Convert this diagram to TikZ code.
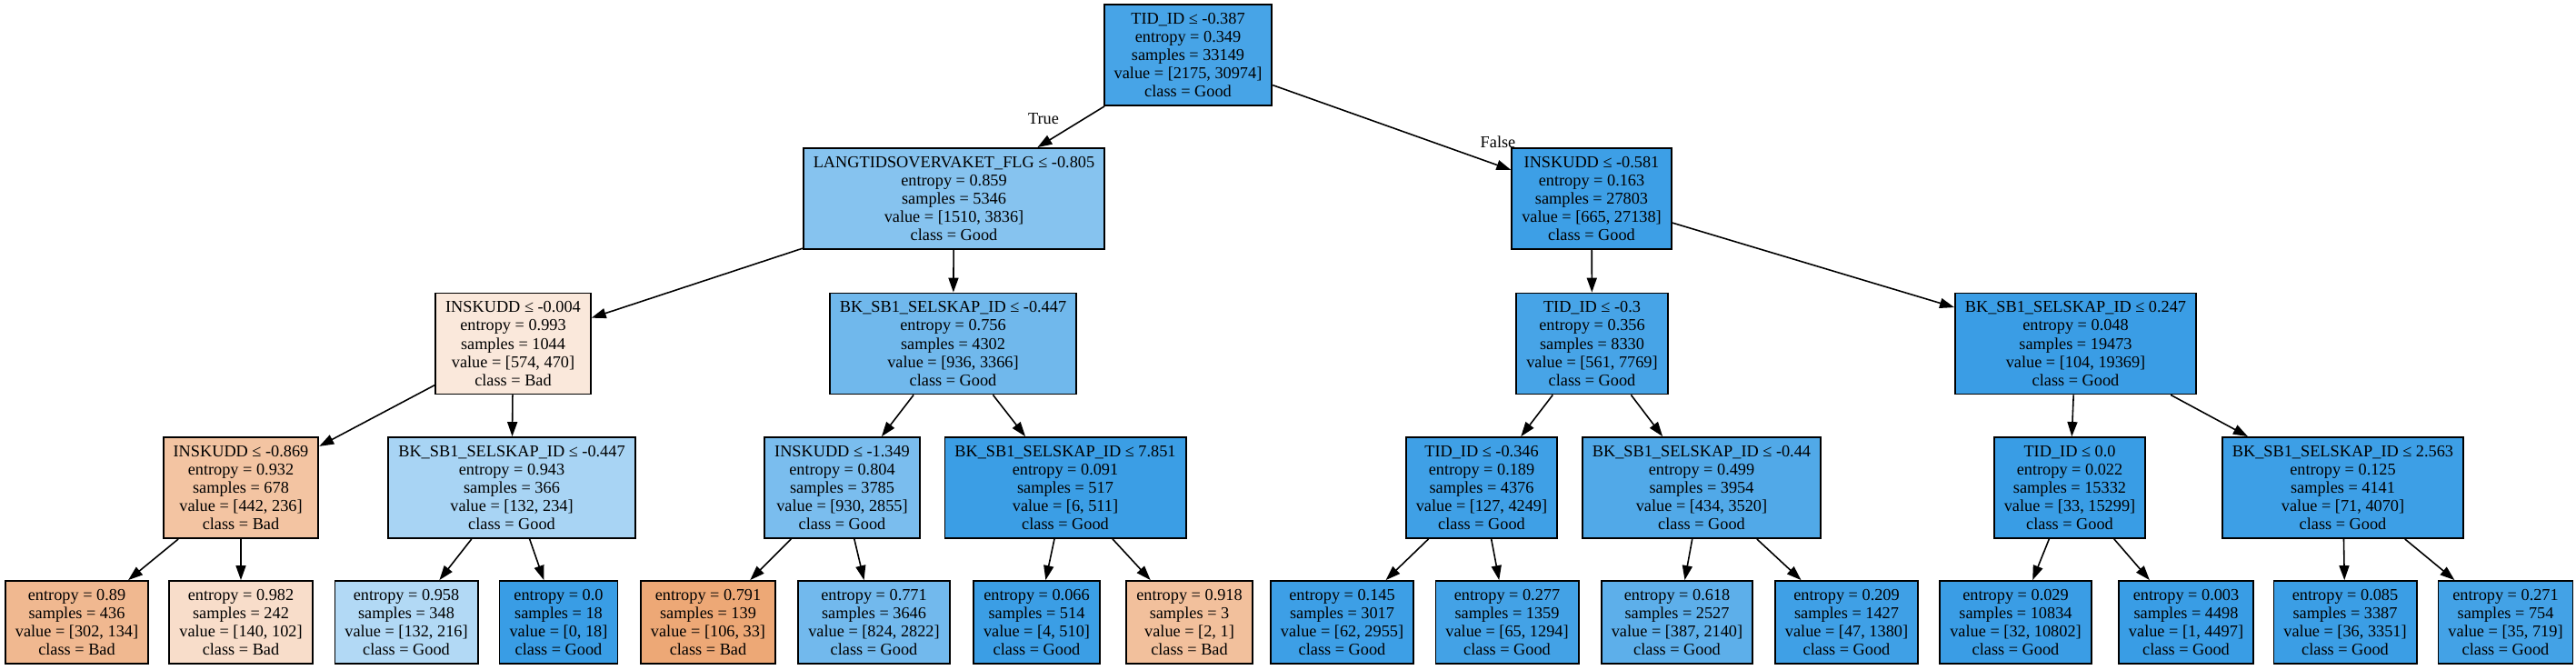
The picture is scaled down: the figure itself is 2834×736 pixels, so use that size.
\documentclass[tikz,border=0pt]{standalone}
\usepackage{fontspec}
\setmainfont{Liberation Serif}
\usepackage{xcolor}
\usepackage{tikz}
\usetikzlibrary{arrows.meta}

\definecolor{goodc}{RGB}{57,157,229}
\definecolor{badc}{RGB}{229,129,57}

\begin{document}
\begin{tikzpicture}[
  x=0.01cm, y=-0.01cm,
  font=\fontsize{5.2}{5.7}\selectfont,
  split/.style={
    rectangle,
    draw=black,
    line width=0.5pt,
    align=center,
    inner xsep=0.11cm,
    inner ysep=0pt,
    minimum height=1.11cm
  },
  leaf/.style={
    split,
    minimum height=0.91cm
  },
  edgelbl/.style={inner sep=0pt},
  arrow/.style={-{Triangle[length=1.6mm,width=1.1mm]}, line width=0.45pt, draw=black}
]
  \useasboundingbox (0,0) rectangle (2834,736);

  % level 0 / 1
  \node[split, fill=goodc!93] (root) at (1307,60.5)
    {TID\_ID ≤ -0.387\\entropy = 0.349\\samples = 33149\\value = [2175, 30974]\\class = Good};
  \node[split, fill=goodc!61] (langtid) at (1049.5,218.5)
    {LANGTIDSOVERVAKET\_FLG ≤ -0.805\\entropy = 0.859\\samples = 5346\\value = [1510, 3836]\\class = Good};
  \node[split, fill=goodc!98] (insk581) at (1751,218.5)
    {INSKUDD ≤ -0.581\\entropy = 0.163\\samples = 27803\\value = [665, 27138]\\class = Good};

  % level 2
  \node[split, fill=badc!18] (insk004) at (564.5,378)
    {INSKUDD ≤ -0.004\\entropy = 0.993\\samples = 1044\\value = [574, 470]\\class = Bad};
  \node[split, fill=goodc!72] (bk447a) at (1048.5,378)
    {BK\_SB1\_SELSKAP\_ID ≤ -0.447\\entropy = 0.756\\samples = 4302\\value = [936, 3366]\\class = Good};
  \node[split, fill=goodc!93] (tid03) at (1751.5,378)
    {TID\_ID ≤ -0.3\\entropy = 0.356\\samples = 8330\\value = [561, 7769]\\class = Good};
  \node[split, fill=goodc!99.5] (bk247) at (2283.5,378)
    {BK\_SB1\_SELSKAP\_ID ≤ 0.247\\entropy = 0.048\\samples = 19473\\value = [104, 19369]\\class = Good};

  % level 3
  \node[split, fill=badc!47] (insk869) at (265,536.5)
    {INSKUDD ≤ -0.869\\entropy = 0.932\\samples = 678\\value = [442, 236]\\class = Bad};
  \node[split, fill=goodc!44] (bk447b) at (563,536.5)
    {BK\_SB1\_SELSKAP\_ID ≤ -0.447\\entropy = 0.943\\samples = 366\\value = [132, 234]\\class = Good};
  \node[split, fill=goodc!67] (insk1349) at (926.5,536.5)
    {INSKUDD ≤ -1.349\\entropy = 0.804\\samples = 3785\\value = [930, 2855]\\class = Good};
  \node[split, fill=goodc!99] (bk7851) at (1172,536.5)
    {BK\_SB1\_SELSKAP\_ID ≤ 7.851\\entropy = 0.091\\samples = 517\\value = [6, 511]\\class = Good};
  \node[split, fill=goodc!97] (tid346) at (1630,536.5)
    {TID\_ID ≤ -0.346\\entropy = 0.189\\samples = 4376\\value = [127, 4249]\\class = Good};
  \node[split, fill=goodc!88] (bk044) at (1872,536.5)
    {BK\_SB1\_SELSKAP\_ID ≤ -0.44\\entropy = 0.499\\samples = 3954\\value = [434, 3520]\\class = Good};
  \node[split, fill=goodc!99.8] (tid00) at (2277,536.5)
    {TID\_ID ≤ 0.0\\entropy = 0.022\\samples = 15332\\value = [33, 15299]\\class = Good};
  \node[split, fill=goodc!98] (bk2563) at (2577.5,536.5)
    {BK\_SB1\_SELSKAP\_ID ≤ 2.563\\entropy = 0.125\\samples = 4141\\value = [71, 4070]\\class = Good};

  % leaves
  \node[leaf, fill=badc!56] (lf1) at (84.5,684.5)
    {entropy = 0.89\\samples = 436\\value = [302, 134]\\class = Bad};
  \node[leaf, fill=badc!27] (lf2) at (265,684.5)
    {entropy = 0.982\\samples = 242\\value = [140, 102]\\class = Bad};
  \node[leaf, fill=goodc!39] (lf3) at (447,684.5)
    {entropy = 0.958\\samples = 348\\value = [132, 216]\\class = Good};
  \node[leaf, fill=goodc] (lf4) at (614.5,684.5)
    {entropy = 0.0\\samples = 18\\value = [0, 18]\\class = Good};
  \node[leaf, fill=badc!69] (lf5) at (779,684.5)
    {entropy = 0.791\\samples = 139\\value = [106, 33]\\class = Bad};
  \node[leaf, fill=goodc!71] (lf6) at (961.5,684.5)
    {entropy = 0.771\\samples = 3646\\value = [824, 2822]\\class = Good};
  \node[leaf, fill=goodc!99] (lf7) at (1140.5,684.5)
    {entropy = 0.066\\samples = 514\\value = [4, 510]\\class = Good};
  \node[leaf, fill=badc!50] (lf8) at (1308.5,684.5)
    {entropy = 0.918\\samples = 3\\value = [2, 1]\\class = Bad};
  \node[leaf, fill=goodc!98] (lf9) at (1476.5,684.5)
    {entropy = 0.145\\samples = 3017\\value = [62, 2955]\\class = Good};
  \node[leaf, fill=goodc!95] (lf10) at (1658,684.5)
    {entropy = 0.277\\samples = 1359\\value = [65, 1294]\\class = Good};
  \node[leaf, fill=goodc!82] (lf11) at (1845,684.5)
    {entropy = 0.618\\samples = 2527\\value = [387, 2140]\\class = Good};
  \node[leaf, fill=goodc!97] (lf12) at (2031.5,684.5)
    {entropy = 0.209\\samples = 1427\\value = [47, 1380]\\class = Good};
  \node[leaf, fill=goodc!99.7] (lf13) at (2217.5,684.5)
    {entropy = 0.029\\samples = 10834\\value = [32, 10802]\\class = Good};
  \node[leaf, fill=goodc] (lf14) at (2405,684.5)
    {entropy = 0.003\\samples = 4498\\value = [1, 4497]\\class = Good};
  \node[leaf, fill=goodc!99] (lf15) at (2580,684.5)
    {entropy = 0.085\\samples = 3387\\value = [36, 3351]\\class = Good};
  \node[leaf, fill=goodc!95] (lf16) at (2756.5,684.5)
    {entropy = 0.271\\samples = 754\\value = [35, 719]\\class = Good};

  \node[edgelbl] (truelbl)  at (1148,131) {True};
  \node[edgelbl] (falselbl) at (1648,156) {False};

  \draw[arrow] (root) -- (langtid);
  \draw[arrow] (root) -- (insk581);
  \draw[arrow] (langtid) -- (insk004);
  \draw[arrow] (langtid) -- (bk447a);
  \draw[arrow] (insk581) -- (tid03);
  \draw[arrow] (insk581) -- (bk247);
  \draw[arrow] (insk004) -- (insk869);
  \draw[arrow] (insk004) -- (bk447b);
  \draw[arrow] (bk447a) -- (insk1349);
  \draw[arrow] (bk447a) -- (bk7851);
  \draw[arrow] (tid03) -- (tid346);
  \draw[arrow] (tid03) -- (bk044);
  \draw[arrow] (bk247) -- (tid00);
  \draw[arrow] (bk247) -- (bk2563);
  \draw[arrow] (insk869) -- (lf1);
  \draw[arrow] (insk869) -- (lf2);
  \draw[arrow] (bk447b) -- (lf3);
  \draw[arrow] (bk447b) -- (lf4);
  \draw[arrow] (insk1349) -- (lf5);
  \draw[arrow] (insk1349) -- (lf6);
  \draw[arrow] (bk7851) -- (lf7);
  \draw[arrow] (bk7851) -- (lf8);
  \draw[arrow] (tid346) -- (lf9);
  \draw[arrow] (tid346) -- (lf10);
  \draw[arrow] (bk044) -- (lf11);
  \draw[arrow] (bk044) -- (lf12);
  \draw[arrow] (tid00) -- (lf13);
  \draw[arrow] (tid00) -- (lf14);
  \draw[arrow] (bk2563) -- (lf15);
  \draw[arrow] (bk2563) -- (lf16);
\end{tikzpicture}
\end{document}
